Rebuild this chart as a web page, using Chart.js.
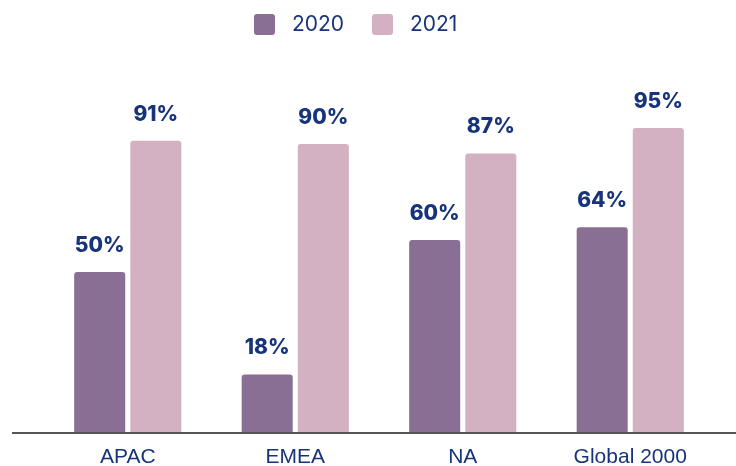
<!DOCTYPE html>
<html>
<head>
<meta charset="utf-8">
<script src="https://cdn.jsdelivr.net/npm/chart.js@4/dist/chart.umd.min.js"></script>
<style>
  html, body { margin: 0; padding: 0; background: #fff; }
  #wrap { width: 736px; height: 466px; position: relative; }
</style>
</head>
<body>
<div id="wrap"><canvas id="canvas"></canvas></div>
<script>
const regions = ['APAC', 'EMEA', 'NA', 'Global 2000'];
const years = ['2020', '2021'];
const values2020 = [50, 18, 60, 64];
const values2021 = [91, 90, 87, 95];

const navy = '#17337a';
const darkBar = '#8a6f94';
const lightBar = '#d3b1c2';

// percent labels above each bar
const barLabels = {
    id: 'barLabels',
    afterDatasetsDraw(chart) {
        const ctx = chart.ctx;
        ctx.save();
        ctx.font = '800 21px Inter, "Noto Sans", sans-serif';
        ctx.fillStyle = navy;
        ctx.textAlign = 'center';
        ctx.textBaseline = 'bottom';
        chart.data.datasets.forEach((ds, i) => {
            chart.getDatasetMeta(i).data.forEach((bar, j) => {
                ctx.fillText(ds.data[j] + '%', bar.x, bar.y - 16);
            });
        });
        ctx.restore();
    }
};

// baseline that runs past the plot area
const baseLine = {
    id: 'baseLine',
    afterDatasetsDraw(chart) {
        const ctx = chart.ctx;
        const y = chart.scales.y.getPixelForValue(0);
        ctx.save();
        ctx.strokeStyle = '#555';
        ctx.lineWidth = 2;
        ctx.beginPath();
        ctx.moveTo(12, y + 1);
        ctx.lineTo(chart.width, y + 1);
        ctx.stroke();
        ctx.restore();
    }
};

// legend drawn by hand, sits a bit left of centre like the original
const topLegend = {
    id: 'topLegend',
    afterDraw(chart) {
        const ctx = chart.ctx;
        ctx.save();
        ctx.font = '21px Inter, "Noto Sans", sans-serif';
        ctx.textBaseline = 'middle';
        ctx.textAlign = 'left';
        chart.data.datasets.forEach((ds, i) => {
            const x = 254 + i * 118;
            ctx.fillStyle = ds.backgroundColor;
            ctx.beginPath();
            ctx.roundRect(x, 14, 21, 21, 3);
            ctx.fill();
            ctx.fillStyle = navy;
            ctx.fillText(ds.label, x + 38, 25);
        });
        ctx.restore();
    }
};

new Chart(document.getElementById('canvas').getContext('2d'), {
    type: 'bar',
    data: {
        labels: regions,
        datasets: [{
            label: years[0],
            data: values2020,
            backgroundColor: darkBar,
            borderRadius: { topLeft: 3, topRight: 3 },
            borderSkipped: 'bottom',
            categoryPercentage: 0.67,
            barPercentage: 0.91
        }, {
            label: years[1],
            data: values2021,
            backgroundColor: lightBar,
            borderRadius: { topLeft: 3, topRight: 3 },
            borderSkipped: 'bottom',
            categoryPercentage: 0.67,
            barPercentage: 0.91
        }]
    },
    options: {
        responsive: true,
        maintainAspectRatio: false,
        animation: false,
        layout: { padding: { left: 44, right: 22, top: 112, bottom: 0 } },
        plugins: {
            legend: { display: false },
            tooltip: { enabled: false }
        },
        scales: {
            x: {
                grid: { display: false, drawTicks: false },
                border: { display: false },
                afterFit(scale) { scale.height = 34; },
                ticks: {
                    color: navy,
                    font: { family: '"Liberation Sans", Arial, sans-serif', size: 21, lineHeight: 1 },
                    padding: 15
                }
            },
            y: {
                display: false,
                min: 0,
                max: 100
            }
        }
    },
    plugins: [barLabels, baseLine, topLegend]
});
</script>
</body>
</html>
